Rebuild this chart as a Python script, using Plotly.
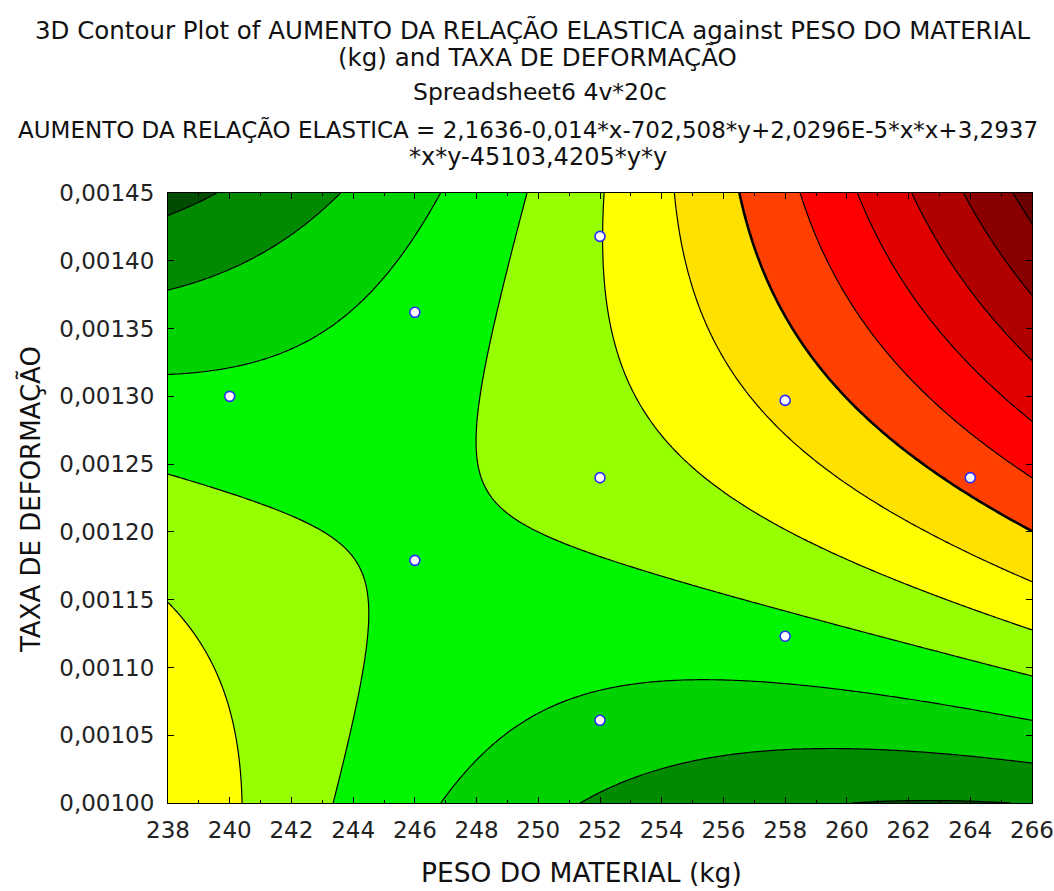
import numpy as np
import plotly.graph_objects as go

# ---- data ----
# Fitted surface printed in the title:
# z = 2,1636 - 0,014*x - 702,508*y + 2,0296E-5*x*x + 3,2937*x*y - 45103,4205*y*y
# (linear x term estimated to a 5th decimal that rounds to the printed -0,014)
COEF_CONST = 2.1636
COEF_X = -0.013959
COEF_Y = -702.508
COEF_XX = 2.0296e-5
COEF_XY = 3.2937
COEF_YY = -45103.4205

# observed design points (PESO DO MATERIAL, TAXA DE DEFORMAÇÃO)
PTS_X = [240, 246, 252, 246, 252, 258, 264, 252, 258]
PTS_Y = [0.00130, 0.001362, 0.001418, 0.001179, 0.00124, 0.001297, 0.00124, 0.001061, 0.001123]

# contour levels and band colours (low -> high)
LEVEL_START = 0.015
LEVEL_END = 0.0425
LEVEL_STEP = 0.0025
THICK_LEVEL = 0.030
BAND_COLORS = ["#004c00", "#008a00", "#00d200", "#00f500", "#96ff00", "#ffff00",
               "#ffe100", "#ff4000", "#ff0000", "#e00000", "#b00000", "#880000", "#6a0000"]

X_RANGE = [238, 266]
Y_RANGE = [0.00100, 0.00145]
X_TICKS = [238, 240, 242, 244, 246, 248, 250, 252, 254, 256, 258, 260, 262, 264, 266]
Y_TICKS = [0.00100, 0.00105, 0.00110, 0.00115, 0.00120, 0.00125, 0.00130, 0.00135, 0.00140, 0.00145]

TITLE_LINES = [
    "3D Contour Plot of AUMENTO DA RELAÇÃO ELASTICA against PESO DO MATERIAL",
    "(kg) and TAXA DE DEFORMAÇÃO",
    "Spreadsheet6 4v*20c",
    "AUMENTO DA RELAÇÃO ELASTICA = 2,1636-0,014*x-702,508*y+2,0296E-5*x*x+3,2937",
    "*x*y-45103,4205*y*y",
]
X_TITLE = "PESO DO MATERIAL (kg)"
Y_TITLE = "TAXA DE DEFORMAÇÃO"

# ---- surface grid ----
gx = np.linspace(X_RANGE[0], X_RANGE[1], 281)
gy = np.linspace(Y_RANGE[0], Y_RANGE[1], 241)
GX, GY = np.meshgrid(gx, gy)
GZ = (COEF_CONST + COEF_X * GX + COEF_Y * GY + COEF_XX * GX * GX
      + COEF_XY * GX * GY + COEF_YY * GY * GY)

# stepwise colour scale: band k sampled at k/(n-1)
n = len(BAND_COLORS)
cscale = []
for k, c in enumerate(BAND_COLORS):
    lo = max(0.0, (k - 0.5) / (n - 1))
    hi = min(1.0, (k + 0.5) / (n - 1))
    cscale.append([lo, c])
    cscale.append([hi, c])

FONT = "DejaVu Sans"
W, H = 1054, 891
L, R, T, B = 168, 22, 193, 88
PW, PH = W - L - R, H - T - B


def px_x(px):
    return (px - L) / PW


def px_y(py):
    return (H - B - py) / PH


fig = go.Figure()
fig.add_trace(go.Contour(
    x=gx, y=gy, z=GZ,
    autocontour=False,
    contours=dict(start=LEVEL_START, end=LEVEL_END, size=LEVEL_STEP,
                  coloring="fill", showlines=True),
    colorscale=cscale, showscale=False,
    line=dict(color="black", width=1.2, smoothing=0),
    hoverinfo="skip",
))
fig.add_trace(go.Contour(
    x=gx, y=gy, z=GZ,
    autocontour=False,
    contours=dict(start=THICK_LEVEL, end=THICK_LEVEL, size=LEVEL_STEP,
                  coloring="none", showlines=True),
    showscale=False,
    line=dict(color="black", width=2.6, smoothing=0),
    hoverinfo="skip",
))
fig.add_trace(go.Scatter(
    x=PTS_X, y=PTS_Y, mode="markers",
    marker=dict(size=10, color="white", line=dict(color="#2a2aff", width=1.6)),
    showlegend=False, hoverinfo="x+y",
))

# (text, centre x px, centre y px, font size)
title_spec = [
    (TITLE_LINES[0], 533, 30, 24.5),
    (TITLE_LINES[1], 537, 57, 24.5),
    (TITLE_LINES[2], 540, 92, 23.5),
    (TITLE_LINES[3], 528, 130, 23),
    (TITLE_LINES[4], 538, 157, 24),
]
ann = []
for txt, cx, cy, fs in title_spec:
    ann.append(dict(text=txt, x=px_x(cx), y=px_y(cy), xref="paper", yref="paper",
                    xanchor="center", yanchor="middle", showarrow=False,
                    font=dict(family=FONT, size=fs, color="#111111")))
ann.append(dict(text=X_TITLE, x=px_x(581), y=px_y(872), xref="paper", yref="paper",
                xanchor="center", yanchor="middle", showarrow=False,
                font=dict(family=FONT, size=26.5, color="#111111")))
ann.append(dict(text=Y_TITLE, x=px_x(30), y=px_y(500), xref="paper", yref="paper",
                xanchor="center", yanchor="middle", showarrow=False, textangle=-90,
                font=dict(family=FONT, size=26, color="#111111")))

axis_common = dict(showgrid=False, zeroline=False, showline=True, linecolor="black",
                   linewidth=1, mirror="ticks", ticks="inside", tickcolor="black",
                   ticklen=6, tickwidth=1, automargin=False, ticklabeloverflow="allow",
                   tickfont=dict(family=FONT, size=23, color="#222222"))

fig.update_layout(
    width=W, height=H, margin=dict(l=L, r=R, t=T, b=B, pad=0, autoexpand=False),
    paper_bgcolor="white", plot_bgcolor="white",
    separators=",.",
    showlegend=False,
    annotations=ann,
    xaxis=dict(range=X_RANGE, tickvals=X_TICKS, ticklabelstandoff=6,
               minor=dict(dtick=1, ticks="inside", ticklen=3, tickcolor="black"),
               **axis_common),
    yaxis=dict(range=Y_RANGE, tickvals=Y_TICKS, tickformat=".5f", ticklabelstandoff=8,
               **axis_common),
)

fig.write_html("out.html")
